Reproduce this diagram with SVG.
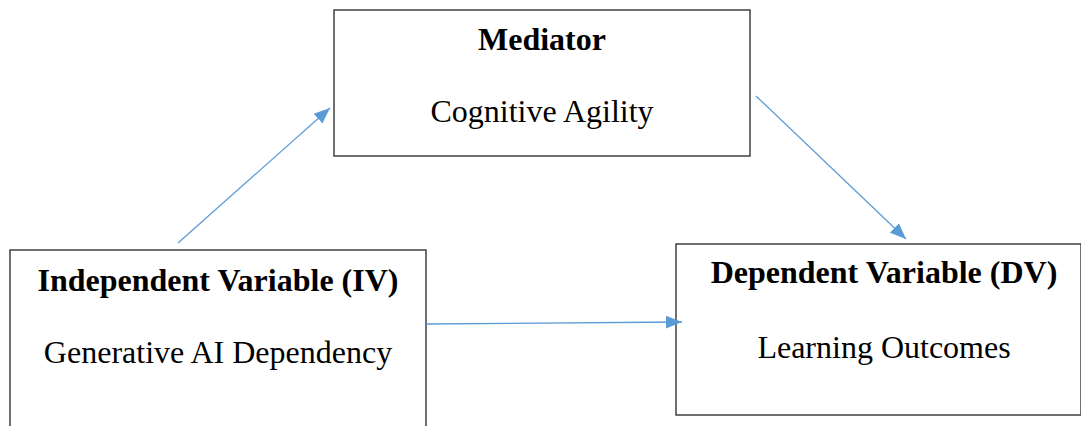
<svg xmlns="http://www.w3.org/2000/svg" width="1081" height="426" viewBox="0 0 1081 426">
<style>
.box{fill:#fff;stroke:#404040;stroke-width:1.5}
.t{font-family:"Liberation Serif","Times New Roman",serif;font-size:32px;fill:#000;text-anchor:middle}
.b{font-weight:bold}
.c{stroke:#5B9BD5;stroke-width:1.3;fill:none;marker-end:url(#ah)}
</style>
<defs>
<marker id="ah" markerUnits="userSpaceOnUse" markerWidth="18" markerHeight="14" refX="16" refY="7" orient="auto">
<path d="M0,0.5 L16,7 L0,13.5 Z" fill="#5B9BD5"/>
</marker>
</defs>
<rect width="1081" height="426" fill="#fff"/>
<g id="mediator">
<rect class="box" x="334" y="10" width="416" height="146"/>
<text class="t b" x="542" y="50">Mediator</text>
<text class="t" x="542" y="122">Cognitive Agility</text>
</g>
<g id="iv">
<rect class="box" x="10" y="250" width="416" height="190"/>
<text class="t b" x="218" y="291">Independent Variable (IV)</text>
<text class="t" x="218" y="363">Generative AI Dependency</text>
</g>
<g id="dv">
<rect class="box" x="676" y="244" width="405" height="171"/>
<text class="t b" x="884" y="283">Dependent Variable (DV)</text>
<text class="t" x="884" y="358">Learning Outcomes</text>
</g>
<g id="connectors">
<line class="c" x1="178" y1="243" x2="330" y2="108"/>
<line class="c" x1="756" y1="96" x2="906" y2="239"/>
<line class="c" x1="426" y1="324" x2="682" y2="322"/>
</g>
</svg>
